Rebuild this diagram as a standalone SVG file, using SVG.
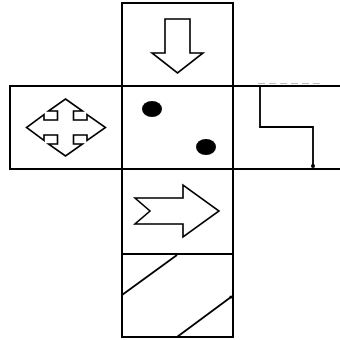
<svg xmlns="http://www.w3.org/2000/svg" width="340" height="340" viewBox="0 0 340 340">
<style>
.face{fill:#fff;stroke:#000;stroke-width:2}
.sym{fill:#fff;stroke:#000;stroke-width:1.6;stroke-linejoin:miter}
.ln{fill:none;stroke:#000;stroke-width:1.8}
.dot{fill:#000}
</style>
<rect width="340" height="340" fill="#fff"/>
<g id="face-top">
<rect class="face" x="122" y="3" width="111" height="83"/>
<path class="sym" d="M165,19 L190,19 L190,53 L203,53 L177.5,73 L152,53 L165,53 Z"/>
</g>
<g id="face-left">
<rect class="face" x="10" y="86" width="112" height="83"/>
<path class="sym" d="M65.5,99 L82.5,111 L73.5,111 L73.5,120 L87,120 L87,114.5 L105.5,127.5 L87,140.5 L87,135 L73.5,135 L73.5,144 L82.5,144 L65.5,156 L48.5,144 L57.5,144 L57.5,135 L44,135 L44,140.5 L26.5,127.5 L44,114.5 L44,120 L57.5,120 L57.5,111 L48.5,111 Z"/>
</g>
<g id="face-right">
<path class="face" d="M233,86 L341,86 M233,169 L341,169"/>
<line x1="258" y1="83.5" x2="324" y2="83.5" stroke="#bbb" stroke-width="1.2" stroke-dasharray="7,4"/>
<polyline class="ln" points="260,86 260,127 313,127 313,166"/>
<circle class="dot" cx="313" cy="166" r="2"/>
</g>
<g id="face-center">
<rect class="face" x="122" y="86" width="111" height="83"/>
<ellipse class="dot" cx="152" cy="109" rx="10" ry="8"/>
<ellipse class="dot" cx="206" cy="147" rx="10" ry="8"/>
</g>
<g id="face-third">
<rect class="face" x="122" y="169" width="111" height="85"/>
<path class="sym" d="M135,198 L183,198 L183,185 L219,211 L183,237 L183,224 L135,224 L150,211 Z"/>
</g>
<g id="face-bottom">
<rect class="face" x="122" y="254" width="111" height="83"/>
<line class="ln" x1="122" y1="295" x2="177" y2="255"/>
<line class="ln" x1="177" y1="337" x2="231" y2="297"/>
<circle class="dot" cx="231" cy="297" r="1.6"/>
</g>
<g id="connectors"></g>
</svg>
